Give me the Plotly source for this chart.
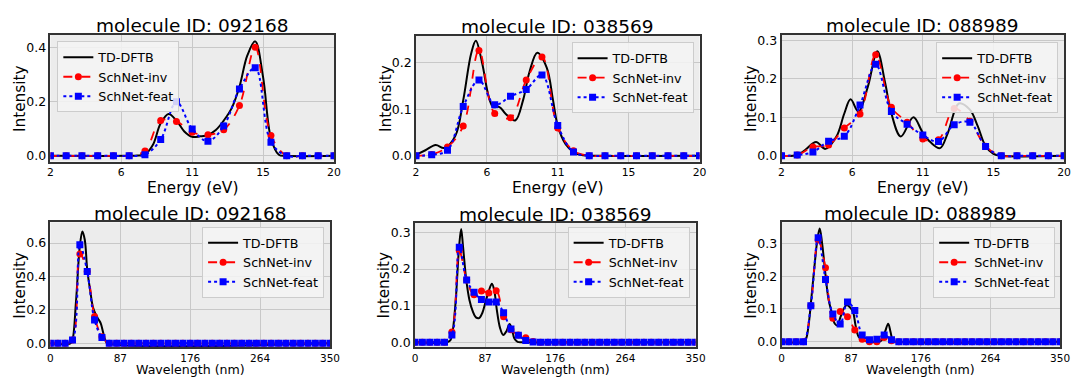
import plotly.graph_objects as go

W, H = 1080, 378

# ---------------- data ----------------
MOLECULES = ["092168", "038569", "088989"]
SERIES = ["TD-DFTB", "SchNet-inv", "SchNet-feat"]

ENERGY = [2, 3, 4, 5, 6, 7, 8, 9, 10, 11, 12, 13, 14, 15, 16, 17, 18, 19, 20]
E_TICKVALS = [2, 6.5, 11, 15.5, 20]
E_TICKTEXT = ["2", "6", "11", "15", "20"]

WL = [round(350 * i / 38, 2) for i in range(39)]
WL_TICKVALS = [0, 87.5, 175, 262.5, 350]
WL_TICKTEXT = ["0", "87", "176", "264", "350"]

# --- energy spectra (top row) ---
e1_inv = [0, 0, 0, 0, 0, 0, 0.018, 0.13, 0.127, 0.087, 0.078, 0.096, 0.186, 0.40, 0.075, 0, 0, 0, 0]
e1_feat = [0, 0, 0, 0, 0, 0, 0.004, 0.06, 0.199, 0.099, 0.054, 0.11, 0.246, 0.325, 0.05, 0, 0, 0, 0]
e1_ref_x = [2, 7, 7.5, 8, 8.5, 9, 9.5, 10, 10.5, 11, 11.5, 12, 12.5, 13, 13.5, 14, 14.5, 15, 15.5, 16, 16.5, 17, 20]
e1_ref_y = [0, 0, 0.001, 0.006, 0.04, 0.12, 0.154, 0.13, 0.09, 0.07, 0.072, 0.077, 0.095, 0.13, 0.175, 0.255, 0.37, 0.422, 0.29, 0.065, 0.004, 0, 0]

e2_inv = [0, 0.003, 0.019, 0.064, 0.227, 0.091, 0.082, 0.163, 0.213, 0.06, 0.011, 0, 0, 0, 0, 0, 0, 0, 0]
e2_feat = [0, 0.002, 0.012, 0.106, 0.163, 0.11, 0.128, 0.143, 0.174, 0.065, 0.008, 0, 0, 0, 0, 0, 0, 0, 0]
e2_ref_x = [2, 2.6, 3.25, 3.8, 4.5, 5, 5.5, 5.8, 6.2, 6.6, 6.9, 7.3, 7.7, 8.3, 8.8, 9.2, 9.7, 10.3, 10.7, 11, 11.5, 12, 12.6, 13.5, 20]
e2_ref_y = [0.002, 0.012, 0.023, 0.017, 0.043, 0.12, 0.22, 0.248, 0.2, 0.13, 0.105, 0.105, 0.09, 0.076, 0.12, 0.18, 0.222, 0.19, 0.12, 0.065, 0.025, 0.008, 0.001, 0, 0]

e3_inv = [0, 0.002, 0.023, 0.028, 0.072, 0.109, 0.263, 0.126, 0.0875, 0.044, 0.042, 0.123, 0.09, 0.025, 0, 0, 0, 0, 0]
e3_feat = [0, 0.002, 0.01, 0.038, 0.051, 0.132, 0.238, 0.115, 0.082, 0.054, 0.037, 0.081, 0.087, 0.024, 0, 0, 0, 0, 0]
e3_ref_x = [2, 3, 3.5, 4.2, 4.8, 5.5, 6, 6.4, 6.9, 7.5, 8.1, 8.6, 9, 9.6, 10.4, 11, 11.5, 12.1, 12.6, 13.3, 14, 14.5, 15, 15.5, 16, 20]
e3_ref_y = [0, 0.002, 0.015, 0.036, 0.018, 0.05, 0.11, 0.147, 0.115, 0.18, 0.272, 0.19, 0.11, 0.05, 0.1, 0.06, 0.035, 0.02, 0.06, 0.136, 0.12, 0.077, 0.025, 0.005, 0, 0]

# --- wavelength spectra (bottom row) ---
w1_inv = [0, 0, 0, 0.02, 0.535, 0.43, 0.16, 0.04] + [0.0] * 31
w1_feat = [0, 0, 0, 0.02, 0.59, 0.43, 0.14, 0.035] + [0.0] * 31
w1_ref_x = [0, 25, 27.6, 32, 36.8, 40, 43, 46.1, 50, 53, 56, 60, 63, 66, 69, 72, 350]
w1_ref_y = [0, 0, 0.02, 0.25, 0.58, 0.67, 0.62, 0.44, 0.31, 0.22, 0.18, 0.145, 0.12, 0.065, 0.015, 0, 0]

w2_inv = [0, 0, 0, 0, 0, 0.028, 0.25, 0.17, 0.13, 0.14, 0.135, 0.141, 0.07, 0.034, 0.02, 0.012, 0.002] + [0.0] * 22
w2_feat = [0, 0, 0, 0, 0, 0.02, 0.26, 0.17, 0.137, 0.117, 0.11, 0.11, 0.081, 0.036, 0.019, 0.005, 0.001] + [0.0] * 22
w2_ref_x = [0, 40, 44, 47, 51, 55, 57.6, 60, 64, 68, 72, 76, 80, 84, 88, 92, 96, 99, 102, 106, 110, 114, 118, 121, 124, 128, 135, 350]
w2_ref_y = [0, 0, 0.005, 0.03, 0.12, 0.26, 0.31, 0.26, 0.17, 0.115, 0.085, 0.068, 0.066, 0.08, 0.11, 0.14, 0.16, 0.14, 0.09, 0.04, 0.02, 0.03, 0.05, 0.035, 0.01, 0.001, 0, 0]

w3_inv = [0, 0, 0, 0, 0.11, 0.31, 0.226, 0.072, 0.092, 0.076, 0.036, 0.008, 0, 0, 0.013, 0.003] + [0.0] * 23
w3_feat = [0, 0, 0, 0, 0.11, 0.317, 0.19, 0.085, 0.054, 0.121, 0.095, 0.021, 0.006, 0.008, 0.021, 0.006] + [0.0] * 23
w3_ref_x = [0, 28, 31, 34, 37, 41, 45, 48, 51, 55, 59, 63, 67, 70, 74, 78, 82, 86, 90, 93, 97, 104, 110, 122, 126, 130, 134, 137, 140, 145, 350]
w3_ref_y = [0, 0, 0.01, 0.05, 0.12, 0.22, 0.31, 0.345, 0.3, 0.21, 0.13, 0.09, 0.055, 0.05, 0.075, 0.1, 0.112, 0.105, 0.09, 0.05, 0.015, 0.003, 0, 0, 0.005, 0.03, 0.055, 0.03, 0.003, 0, 0]

# ---------------- layout helpers ----------------
FONT = "DejaVu Sans"


def fx(p):
    return p / W


def fy(p):
    return 1 - p / H


panels = [
    dict(x=ENERGY, inv=e1_inv, feat=e1_feat, rx=e1_ref_x, ry=e1_ref_y, xr=[2, 20], yr=[-0.021, 0.446],
         yt=[0, 0.2, 0.4], xt=(E_TICKVALS, E_TICKTEXT), box=(48, 335, 33.3, 161.7), leg=(55, 40, "left"),
         xtitle="Energy (eV)", xfs=15.5, xty=188.5, xtf=10.8),
    dict(x=ENERGY, inv=e2_inv, feat=e2_feat, rx=e2_ref_x, ry=e2_ref_y, xr=[2, 20], yr=[-0.0124, 0.259],
         yt=[0, 0.1, 0.2], xt=(E_TICKVALS, E_TICKTEXT), box=(418, 705, 34, 161.7), leg=(699, 41, "right"),
         xtitle="Energy (eV)", xfs=15.5, xty=188.5, xtf=10.8),
    dict(x=ENERGY, inv=e3_inv, feat=e3_feat, rx=e3_ref_x, ry=e3_ref_y, xr=[2, 20], yr=[-0.015, 0.3146],
         yt=[0, 0.1, 0.2, 0.3], xt=(E_TICKVALS, E_TICKTEXT), box=(788, 1074, 33.3, 161.7), leg=(1068, 41, "right"),
         xtitle="Energy (eV)", xfs=15.5, xty=188.5, xtf=10.8),
    dict(x=WL, inv=w1_inv, feat=w1_feat, rx=w1_ref_x, ry=w1_ref_y, xr=[0, 350], yr=[-0.024, 0.724],
         yt=[0, 0.2, 0.4, 0.6], xt=(WL_TICKVALS, WL_TICKTEXT), box=(48, 331, 223.3, 350), leg=(325, 228, "right"),
         xtitle="Wavelength (nm)", xfs=12.6, xty=372, xtf=10.5),
    dict(x=WL, inv=w2_inv, feat=w2_feat, rx=w2_ref_x, ry=w2_ref_y, xr=[0, 350], yr=[-0.014, 0.326],
         yt=[0, 0.1, 0.2, 0.3], xt=(WL_TICKVALS, WL_TICKTEXT), box=(417, 701, 224, 350), leg=(695, 228, "right"),
         xtitle="Wavelength (nm)", xfs=12.6, xty=372, xtf=10.5),
    dict(x=WL, inv=w3_inv, feat=w3_feat, rx=w3_ref_x, ry=w3_ref_y, xr=[0, 350], yr=[-0.017, 0.364],
         yt=[0, 0.1, 0.2, 0.3], xt=(WL_TICKVALS, WL_TICKTEXT), box=(788, 1070, 223.3, 350), leg=(1065, 228, "right"),
         xtitle="Wavelength (nm)", xfs=12.6, xty=372, xtf=10.5),
]

fig = go.Figure()
annotations = []
layout = dict(
    width=W, height=H, margin=dict(l=0, r=0, t=0, b=0),
    paper_bgcolor="white", plot_bgcolor="#ececec",
    font=dict(family=FONT, color="black", size=12.5),
)

for i, p in enumerate(panels):
    n = i + 1
    xa = "x" if n == 1 else f"x{n}"
    ya = "y" if n == 1 else f"y{n}"
    lg = "legend" if n == 1 else f"legend{n}"
    l, r, t, b = p["box"]

    fig.add_trace(go.Scatter(x=p["rx"], y=p["ry"], mode="lines", name=SERIES[0],
                             line=dict(color="black", width=2, shape="spline", smoothing=1.0),
                             xaxis=xa, yaxis=ya, legend=lg))
    fig.add_trace(go.Scatter(x=p["x"], y=p["inv"], mode="lines+markers", name=SERIES[1],
                             line=dict(color="#ff0000", width=1.8, dash="dash", shape="spline", smoothing=1.0),
                             marker=dict(symbol="circle", size=7, color="#ff0000"),
                             xaxis=xa, yaxis=ya, legend=lg))
    fig.add_trace(go.Scatter(x=p["x"], y=p["feat"], mode="lines+markers", name=SERIES[2],
                             line=dict(color="#0000ff", width=2, dash="dot", shape="spline", smoothing=1.0),
                             marker=dict(symbol="square", size=7, color="#0000ff"),
                             xaxis=xa, yaxis=ya, legend=lg))

    axkey = "xaxis" if n == 1 else f"xaxis{n}"
    aykey = "yaxis" if n == 1 else f"yaxis{n}"
    layout[axkey] = dict(domain=[fx(l), fx(r)], anchor=ya, range=p["xr"],
                         tickvals=p["xt"][0], ticktext=p["xt"][1],
                         showgrid=True, gridcolor="#c8c8c8", gridwidth=1, zeroline=False,
                         showline=True, mirror=True, linecolor="#333333", linewidth=1.5,
                         ticks="", tickfont=dict(size=p["xtf"], family=FONT))
    layout[aykey] = dict(domain=[fy(b), fy(t)], anchor=xa, range=p["yr"],
                         tickvals=p["yt"], tickformat=".1f",
                         showgrid=True, gridcolor="#c8c8c8", gridwidth=1, zeroline=False,
                         showline=True, mirror=True, linecolor="#333333", linewidth=1.5,
                         ticks="", tickfont=dict(size=12.5, family=FONT))
    lx, ly, anc = p["leg"]
    layout[lg] = dict(x=fx(lx), y=fy(ly), xanchor=anc, yanchor="top",
                      bgcolor="rgba(244,244,244,0.85)", bordercolor="#cccccc", borderwidth=1,
                      font=dict(size=12.7, family=FONT), tracegroupgap=0, itemwidth=30)

    cx = (l + r) / 2
    annotations.append(dict(text=f"molecule ID: {MOLECULES[i % 3]}", xref="paper", yref="paper",
                            x=fx(cx), y=fy(t - 9), xanchor="center", yanchor="middle",
                            showarrow=False, font=dict(size=18.5, family=FONT)))
    annotations.append(dict(text=p["xtitle"], xref="paper", yref="paper",
                            x=fx(cx), y=fy(p["xty"]), xanchor="center", yanchor="middle",
                            showarrow=False, font=dict(size=p["xfs"], family=FONT)))
    annotations.append(dict(text="Intensity", xref="paper", yref="paper", textangle=-90,
                            x=fx(l - 31), y=fy((t + b) / 2), xanchor="center", yanchor="middle",
                            showarrow=False, font=dict(size=15.3, family=FONT)))

layout["annotations"] = annotations
fig.update_layout(**layout)
fig.write_html("out.html", config={"displayModeBar": False},
               post_script="document.body.style.margin='0';document.body.style.overflow='hidden';")
